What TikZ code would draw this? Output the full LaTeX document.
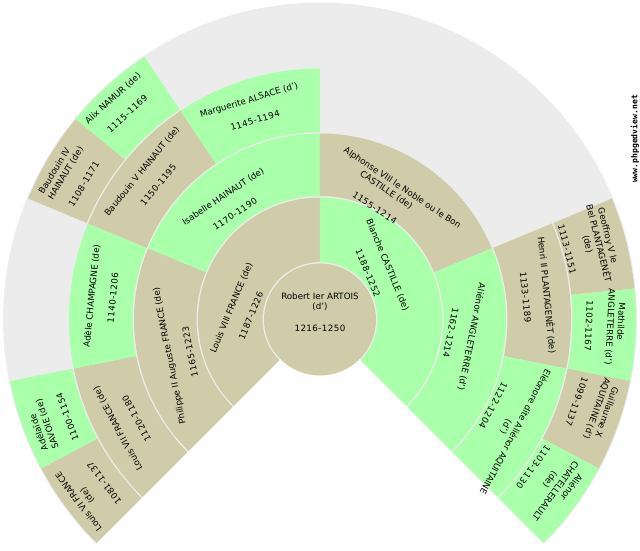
\documentclass[tikz,border=0pt]{standalone}
\usepackage{fontspec}
\setmainfont{DejaVu Sans}
\newfontfamily\wmfont{DejaVu Sans Mono}
\newfontfamily\datefont[LetterSpace=5]{DejaVu Sans}
\definecolor{fangray}{HTML}{ECECEC}
\definecolor{fantan}{HTML}{D0CCAA}
\definecolor{fangreen}{HTML}{AAFFAA}
\tikzset{
  person/.style={font=\fontsize{8.7}{10.7}\selectfont,align=center,inner sep=0pt,text=black},
}
\newcommand{\bl}[1]{\\[10.7pt]{\datefont #1}}
\begin{document}
\begin{tikzpicture}[x=1pt,y=1pt]
  \useasboundingbox (-320,-230.5) rectangle (320,319.5);
  \fill[fangray] (0,0) -- (225:317) arc (225:-45:317) -- cycle;
  \foreach \ra/\rb/\a/\b/\col in {
    57.5/122/90/225/fantan, 57.5/122/-45/90/fangreen,
    123.5/186/157.5/225/fantan, 123.5/186/90/157.5/fangreen,
    123.5/186/22.5/90/fantan, 123.5/186/-45/22.5/fangreen,
    187.5/251/191.25/225/fantan, 187.5/251/157.5/191.25/fangreen,
    187.5/251/123.75/157.5/fantan, 187.5/251/90/123.75/fangreen,
    187.5/251/-11.25/22.5/fantan, 187.5/251/-45/-11.25/fangreen,
    252.5/316/208.125/225/fantan, 252.5/316/191.25/208.125/fangreen,
    252.5/316/140.625/157.5/fantan, 252.5/316/123.75/140.625/fangreen,
    252.5/316/5.625/22.5/fantan, 252.5/316/-11.25/5.625/fangreen,
    252.5/316/-28.125/-11.25/fantan, 252.5/316/-45/-28.125/fangreen}
    \fill[\col] (\a:\ra) arc (\a:\b:\ra) -- (\b:\rb) arc (\b:\a:\rb) -- cycle;
  \fill[fantan] (0,0) circle (56);
  \node[person] (robert) at (0,7.5) {Robert Ier ARTOIS\\(d')\hspace*{30pt}\bl{1216-1250}};
  \node[person,rotate=67.5] (louisviii) at (-79,7.5) {Louis VIII FRANCE (de)\bl{1187-1226}};
  \node[person,rotate=-67.5] (blanche) at (58,50.5) {Blanche CASTILLE (de)\bl{1188-1252}};
  \node[person,rotate=101.25] (philippe) at (-140.5,-34.5) {Philippe II Auguste FRANCE (de)\bl{1165-1223}};
  \node[person,rotate=33.75] (isabelle) at (-91,114.5) {Isabelle HAINAUT (de)\bl{1170-1190}};
  \node[person,rotate=-33.75] (alphonse) at (63.7,125.2) {\hspace*{24pt}Alphonse VIII le Noble ou le Bon\\CASTILLE (de)\bl{1155-1214}};
  \node[person,rotate=-101.25] (alienora) at (141.5,-15.5) {Aliénor ANGLETERRE (d')\bl{1162-1214}};
  \node[person,rotate=118.125] (louisvii) at (-193,-104) {Louis VII FRANCE (de)\bl{1120-1180}};
  \node[person,rotate=84.375] (adele) at (-218,22.5) {Adèle CHAMPAGNE (de)\bl{1140-1206}};
  \node[person,rotate=50.625] (baudouinv) at (-170,141.5) {Baudouin V HAINAUT (de)\bl{1150-1195}};
  \node[person,rotate=16.875] (marguerite) at (-68,209.5) {Marguerite ALSACE (d')\bl{1145-1194}};
  \node[person,rotate=-84.375] (henri) at (217,23.5) {Henri II PLANTAGENÊT (de)\bl{1133-1189}};
  \node[person,rotate=-118.125] (eleonore) at (181.5,-105) {Eléonore dite Aliénor AQUITAINE\\(d')\hspace*{46pt}\bl{1122-1204\hspace*{26pt}}};
  \node[person,rotate=126.5625] (louisvi) at (-228.7,-173) {Louis VI FRANCE\\(de)\hspace*{21pt}\bl{1081-1137}};
  \node[person,rotate=109.6875] (adelaide) at (-268.1,-103) {Adélaïde\hspace*{10pt}\\SAVOIE (de)\bl{1100-1154}};
  \node[person,rotate=59.0625] (baudouiniv) at (-250,143.9) {Baudouin IV\hspace*{8pt}\\HAINAUT (de)\bl{1108-1171}};
  \node[person,rotate=42.1875] (alix) at (-200,213.5) {Alix NAMUR (de)\bl{1115-1169}};
  \node[person,rotate=-75.9375] (geoffroy) at (268,75.4) {Geoffroy V le\hspace*{7pt}\\\hspace*{4pt}Bel PLANTAGENÊT\\(de)\hspace*{23pt}\bl{1113-1151}};
  \node[person,rotate=-92.8125] (mathilde) at (285,-7.2) {Mathilde\hspace*{12pt}\\ANGLETERRE (d')\bl{1102-1167}};
  \node[person,rotate=-109.6875] (guillaume) at (272,-87.5) {Guillaume X\\AQUITAINE (d')\bl{1099-1137}};
  \node[person,rotate=-126.5625] (alienorb) at (230.7,-160.4) {Aliénor\hspace*{13pt}\\\hspace*{12pt}CHATELLERAULT\\(de)\hspace*{18pt}\bl{1103-1130}};
  \node[font=\wmfont\bfseries\fontsize{8.1}{9}\selectfont,rotate=90,inner sep=0pt] (site) at (315,180.5) {www.phpgedview.net};
\end{tikzpicture}
\end{document}
